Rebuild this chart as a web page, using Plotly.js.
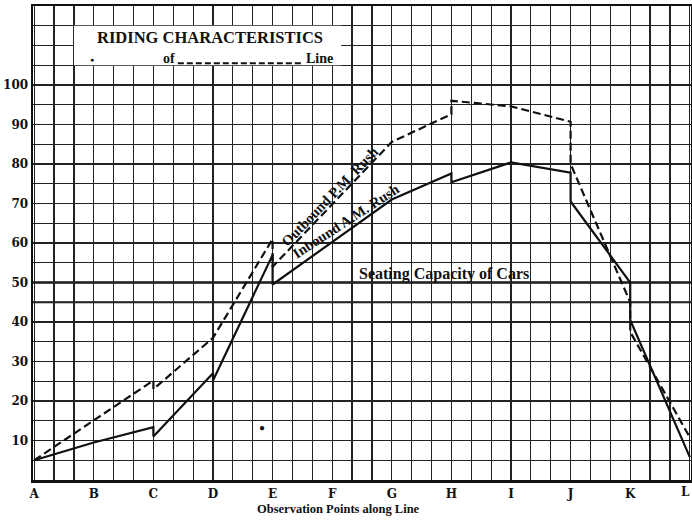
<!DOCTYPE html>
<html>
<head>
<meta charset="utf-8">
<script src="https://cdn.plot.ly/plotly-3.0.1.min.js"></script>
<style>html,body{margin:0;padding:0;background:#fff;}#chart{width:692px;height:521px;}</style>
</head>
<body>
<div id="chart"></div>
<script>
// Observation points along the line
const categories = ['A','B','C','D','E','F','G','H','I','J','K','L'];

// Inbound A.M. Rush (solid) – load arriving / leaving at each point
const inboundAt  = ['A','B','C','C','D','D','E','E','G','H','H','I','J','J','K','K','L'];
const inboundVal = [5, 9.5, 13.4, 11, 27, 25.2, 57, 49.5, 71, 77.6, 75.4, 80.4, 77.8, 70.5, 50, 40.5, 5.8];

// Outbound P.M. Rush (dashed)
const outboundAt  = ['A','C','C','D','E','E','G','H','H','I','J','J','K','K','L'];
const outboundVal = [5, 25.2, 23, 36, 61, 54, 85.6, 92.6, 96, 94.6, 90.7, 80, 45, 37.5, 10.8];

const seatingCapacity = 50;
const yTicks = [10, 20, 30, 40, 50, 60, 70, 80, 90, 100];

const serif = 'Liberation Serif, DejaVu Serif, serif';
const ink = '#111';
const idx = c => categories.indexOf(c);
const lastCat = categories[categories.length - 1];

const traces = [
  {type:'scatter', mode:'lines', x: inboundAt.map(idx), y: inboundVal,
   line:{color:ink, width:2.2}, hoverinfo:'skip'},
  {type:'scatter', mode:'lines', x: outboundAt.map(idx), y: outboundVal,
   line:{color:ink, width:2.2, dash:'8px,4px'}, hoverinfo:'skip'}
];

const tickFont = {family:'DejaVu Serif, serif', size:12, color:ink, weight:'bold'};

const layout = {
  width:692, height:521,
  margin:{l:33, r:1, t:6, b:41},
  paper_bgcolor:'#fff', plot_bgcolor:'#fff',
  showlegend:false,
  xaxis:{
    range:[-0.02, 11.02],
    tickmode:'array', tickvals: categories.map((c,i)=>i),
    ticktext: categories.map(c => c === lastCat ? '' : c),
    showgrid:true, gridcolor:'#222', gridwidth:1.3,
    minor:{dtick:1/3, tick0:0, showgrid:true, gridcolor:'#222', gridwidth:1.2},
    zeroline:false, showline:true, mirror:true, linecolor:ink, linewidth:2.5,
    ticks:'', ticklabelstandoff:1,
    tickfont: tickFont
  },
  yaxis:{
    range:[0,120],
    tickmode:'array', tickvals: yTicks,
    showgrid:true, gridcolor:'#222', gridwidth:1.3,
    minor:{dtick:5, tick0:0, showgrid:true, gridcolor:'#222', gridwidth:1.2},
    zeroline:false, showline:true, mirror:true, linecolor:ink, linewidth:2.5,
    ticks:'',
    tickfont: tickFont
  },
  shapes:[
    {type:'rect', xref:'x', yref:'y', x0:0.667, x1:5.15, y0:105, y1:115,
     fillcolor:'#fff', line:{width:0}, layer:'above'},
    {type:'line', xref:'x', yref:'y', x0:2.41, x1:4.5, y0:105.5, y1:105.5,
     line:{color:ink, width:2, dash:'6px,3px'}, layer:'above'},
    {type:'line', xref:'paper', yref:'y', x0:0, x1:1, y0:seatingCapacity, y1:seatingCapacity,
     line:{color:ink, width:2.6}, layer:'below'},
    {type:'line', xref:'paper', yref:'y', x0:0, x1:1, y0:45, y1:45,
     line:{color:ink, width:1.8}, layer:'below'}
  ],
  annotations:[
    {xref:'paper', yref:'paper', x:1, xshift:1, y:0, yshift:-12, text:lastCat, showarrow:false,
     font: tickFont, xanchor:'right', yanchor:'middle'},
    {xref:'x', yref:'y', x:2.95, y:112, text:'RIDING CHARACTERISTICS', showarrow:false,
     font:{family:serif, size:16.5, color:ink, weight:'bold'}, xanchor:'center', yanchor:'middle'},
    {xref:'x', yref:'y', x:2.12, y:106.6, text:'of', showarrow:false,
     font:{family:serif, size:14, color:ink, weight:'bold'}, xanchor:'left', yanchor:'middle'},
    {xref:'x', yref:'y', x:5.04, y:106.6, text:'Line', showarrow:false,
     font:{family:serif, size:14, color:ink, weight:'bold'}, xanchor:'right', yanchor:'middle'},
    {xref:'x', yref:'y', x:0.97, y:106.3, text:'●', showarrow:false,
     font:{family:serif, size:7, color:ink}, xanchor:'center', yanchor:'middle'},
    {xref:'x', yref:'y', x:3.82, y:13.3, text:'●', showarrow:false,
     font:{family:serif, size:10, color:ink}, xanchor:'center', yanchor:'middle'},
    {xref:'x', yref:'y', x:6.88, y:52.2, text:'Seating Capacity of Cars', showarrow:false,
     font:{family:serif, size:16, color:ink, weight:'bold'}, xanchor:'center', yanchor:'middle'},
    {xref:'x', yref:'y', x:4.97, y:71.8, text:'Outbound P.M. Rush', showarrow:false, textangle:-46,
     font:{family:serif, size:14.5, color:ink, weight:'bold'}, xanchor:'center', yanchor:'middle'},
    {xref:'x', yref:'y', x:5.23, y:65.6, text:'Inbound A.M. Rush', showarrow:false, textangle:-33,
     font:{family:serif, size:14.5, color:ink, weight:'bold'}, xanchor:'center', yanchor:'middle'},
    {xref:'paper', yref:'paper', x:0.465, y:-0.062, text:'Observation Points along Line', showarrow:false,
     font:{family:serif, size:12.5, color:ink, weight:'bold'}, xanchor:'center', yanchor:'middle'}
  ]
};

Plotly.newPlot('chart', traces, layout, {displayModeBar:false, staticPlot:true});
</script>
</body>
</html>
